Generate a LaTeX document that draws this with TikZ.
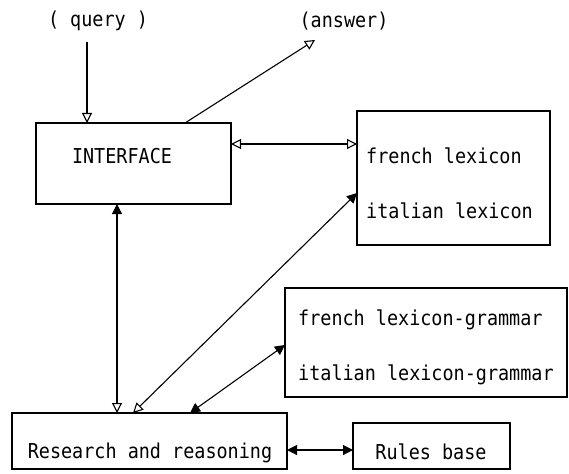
\documentclass[tikz,border=0pt]{standalone}
\usepackage{fontspec}
\setmonofont[FakeStretch=0.9]{DejaVu Sans Mono}
\usetikzlibrary{arrows.meta}
\tikzset{
  box/.style={draw, line width=1.2pt, inner sep=0pt, outer sep=0pt},
  lbl/.style={font=\ttfamily\fontsize{20.5}{22}\selectfont, inner sep=0pt, anchor=base west},
  clbl/.style={font=\ttfamily\fontsize{20.5}{22}\selectfont, inner sep=0pt, anchor=base},
  conn/.style={line width=1.1pt},
  fa/.tip={Triangle[length=10pt, width=10pt]},
  oa/.tip={Triangle[open, length=10pt, width=10pt]}
}
\begin{document}
\begin{tikzpicture}[x=1pt, y=-1pt]
\useasboundingbox (0,0) rectangle (569,473);
% boxes
\node[box, minimum width=195pt, minimum height=81pt] (iface) at (133.5,163.5) {};
\node[box, minimum width=193pt, minimum height=134pt] (lex) at (453.5,178) {};
\node[box, minimum width=282pt, minimum height=109pt] (lg) at (426,342.5) {};
\node[box, minimum width=275pt, minimum height=56pt] (rr) at (149.5,441) {};
\node[box, minimum width=157pt, minimum height=46pt] (rb) at (431.5,446) {};
% texts
\node[clbl] (tq) at (98,27) {( query )};
\node[clbl] (ta) at (344,28) {(answer)};
\node[clbl] (ti) at (122,163) {INTERFACE};
\node[lbl] (tfl) at (366,163) {french lexicon};
\node[lbl] (til) at (366,218) {italian lexicon};
\node[lbl] (tflg) at (298,325) {french lexicon-grammar};
\node[lbl] (tilg) at (298,380) {italian lexicon-grammar};
\node[clbl] (tr) at (150,458) {Research and reasoning};
\node[clbl] (trb) at (431,459) {Rules base};
% free ends / helpers
\coordinate (q) at (87,42);
\coordinate (ans) at (315,40);
\coordinate (h) at (0,144);
\coordinate (v) at (117,0);
\coordinate (hr) at (0,450);
% connectors
\draw[conn, -{oa}] (q) -- (q |- iface.north);
\draw[conn, -{oa}] ([xshift=149pt]iface.north west) -- (ans);
\draw[conn, {oa}-{oa}] (iface.east |- h) -- (lex.west |- h);
\draw[conn, {fa}-{oa}] (iface.south -| v) -- (rr.north -| v);
\draw[conn, {oa}-{fa}] ([xshift=121pt]rr.north west) -- ([yshift=-82pt]lex.north west);
\draw[conn, {fa}-{fa}] ([xshift=178pt]rr.north west) -- ([yshift=-57pt]lg.north west);
\draw[conn, {fa}-{fa}] (rr.east |- hr) -- (rb.west |- hr);
\end{tikzpicture}
\end{document}
